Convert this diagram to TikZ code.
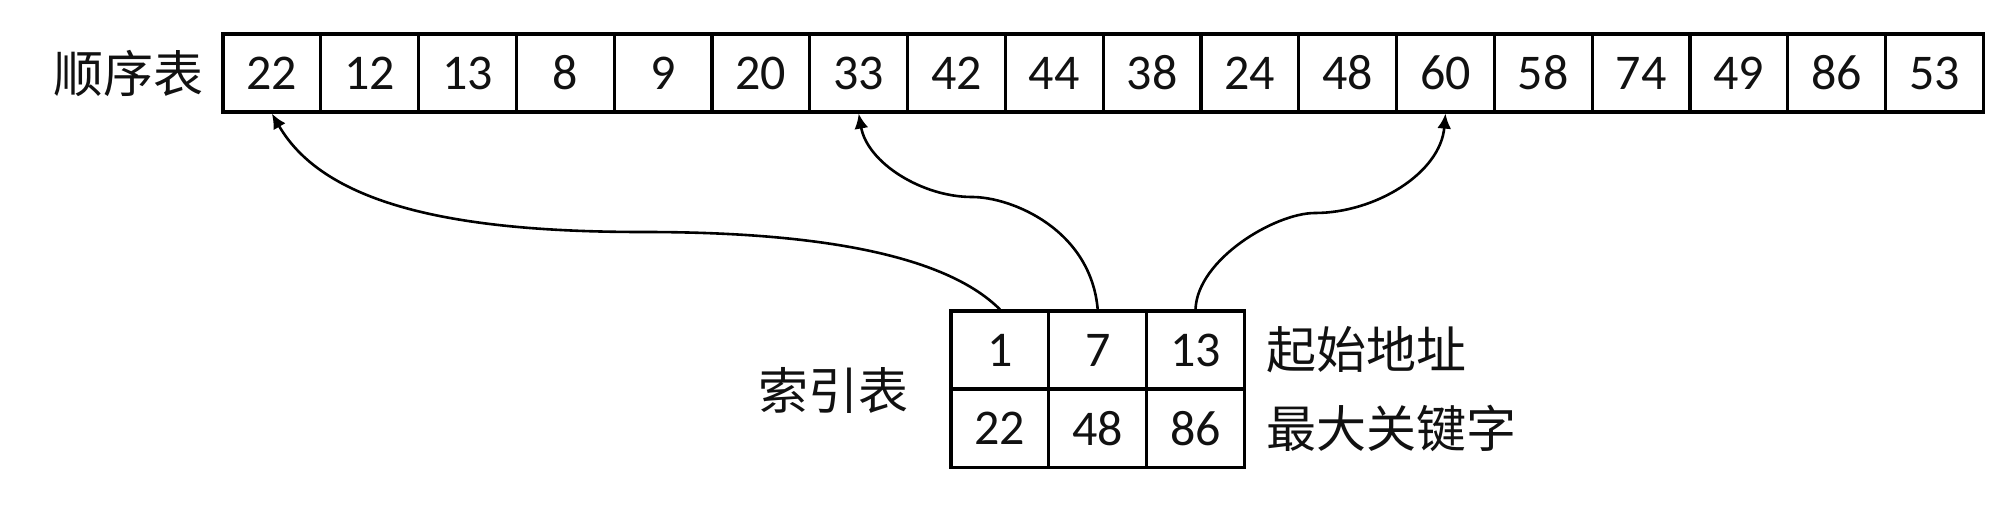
\documentclass[tikz,border=0pt]{standalone}
\usepackage{fontspec}
\usepackage{tikz}
\usetikzlibrary{arrows.meta,positioning}
\setmainfont{Carlito}
\newfontfamily\cjk{Noto Sans CJK SC}
\definecolor{linecol}{HTML}{000000}
\definecolor{textcol}{HTML}{111111}

\begin{document}
\begin{tikzpicture}[x=1pt, y=1pt,
    cell/.style={draw=linecol, line width=3.2pt, minimum width=97.8pt, minimum height=78pt,
      inner sep=0pt, font=\fontsize{50}{56}\selectfont, text=textcol},
    tag/.style={font=\cjk\fontsize{50}{58}\selectfont, text=textcol, inner sep=0pt},
    link/.style={draw=linecol, line width=2.6pt, -{Latex[length=15pt, width=14pt]}}]
    \useasboundingbox (0,0) rectangle (2009,509);
    % sequential table
    \foreach \i/\v in {1/22, 2/12, 3/13, 4/8, 5/9, 6/20, 7/33, 8/42, 9/44,
        10/38, 11/24, 12/48, 13/60, 14/58, 15/74, 16/49, 17/86, 18/53}{
      \pgfmathsetmacro{\xc}{223 + (\i-0.5)*97.8}
      \node[cell] (a\i) at (\xc, 436) {\v};
    }
    \node[tag, anchor=east] (seqlbl) at (204, 436) {顺序表};
    % index table
    \foreach \i/\addr/\key in {1/1/22, 2/7/48, 3/13/86}{
      \pgfmathsetmacro{\xc}{951 + (\i-0.5)*97.8}
      \node[cell] (i\i) at (\xc, 159) {\addr};
      \node[cell] (k\i) at (\xc, 80.5) {\key};
    }
    \node[tag] (idxlbl) at (833, 119) {索引表};
    \node[tag, anchor=west] (addrlbl) at (1266, 159) {起始地址};
    \node[tag, anchor=west] (keylbl) at (1266, 80.5) {最大关键字};
    % links
    \coordinate (m1) at (643, 277);
    \coordinate (m2) at (972, 312);
    \coordinate (m3) at (1315, 296);
    \draw[link] (i1.north) .. controls +(135:95) and +(0:120) .. (m1)
      .. controls +(180:184) and +(-60:107) .. (a1.south);
    \draw[link] (i2.north) .. controls +(95:80) and +(0:40) .. (m2)
      .. controls +(180:50) and +(-80:50) .. (a7.south);
    \draw[link] (i3.north) .. controls +(88:50) and +(180:40) .. (m3)
      .. controls +(0:60) and +(-95:60) .. (a13.south);
\end{tikzpicture}
\end{document}
